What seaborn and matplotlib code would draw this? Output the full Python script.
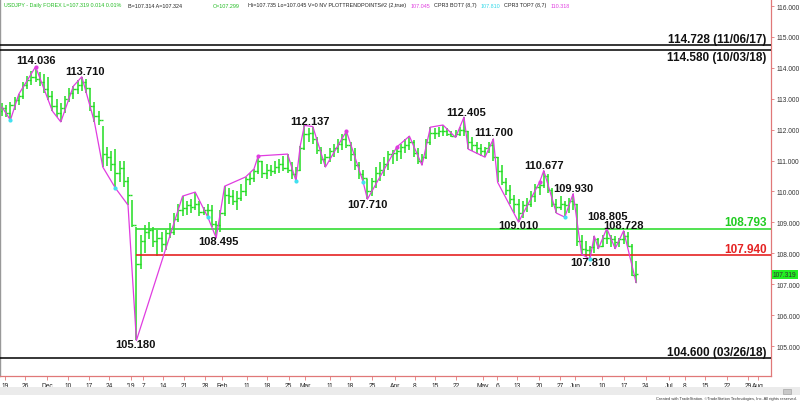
import numpy as np
import pandas as pd
import matplotlib
matplotlib.use("Agg")
import matplotlib.pyplot as plt
import matplotlib.transforms as mtransforms
from matplotlib.patches import Rectangle
import seaborn as sns

# ==============================
# Daily USDJPY bars (index 0 = 19 Nov 2018, one per trading day)
# ==============================

highs = [112.85, 112.80, 112.90, 113.05, 113.15, 113.55, 113.75, 113.90, 114.036, 113.85,
         113.80, 113.70, 113.25, 113.00, 112.85, 113.10, 113.35, 113.41, 113.60, 113.71,
         113.65, 113.35, 112.90, 112.60, 112.12, 111.43, 111.30, 111.37, 111.00, 111.00,
         110.47, 109.72, 108.85, 108.60, 108.90, 109.00, 108.85, 108.75, 108.70, 108.75,
         108.99, 109.30, 109.60, 109.85, 109.70, 109.75, 109.98, 109.70, 109.50, 109.60,
         109.55, 109.05, 109.40, 110.17, 110.10, 110.05, 110.00, 110.25, 110.47, 110.60,
         110.73, 111.15, 111.00, 110.90, 110.85, 111.00, 111.05, 111.15, 111.21, 110.95,
         110.80, 111.47, 112.137, 112.05, 112.10, 111.75, 111.45, 111.20, 111.40, 111.55,
         111.70, 111.85, 111.95, 111.60, 111.40, 110.95, 110.70, 110.40, 110.45, 110.80,
         110.95, 111.10, 111.30, 111.35, 111.44, 111.55, 111.70, 111.79, 111.65, 111.40,
         111.20, 111.70, 112.08, 112.05, 112.10, 112.15, 112.05, 111.95, 112.00, 112.10,
         112.405, 111.95, 111.75, 111.60, 111.55, 111.45, 111.60, 111.70, 111.10, 110.85,
         110.45, 110.20, 109.90, 109.75, 109.70, 109.80, 110.00, 110.25, 110.30, 110.677,
         110.55, 110.10, 109.75, 109.85, 109.70, 109.80, 109.93, 109.60, 108.60, 108.40,
         108.25, 108.56, 108.50, 108.60, 108.805, 108.60, 108.55, 108.50, 108.728, 108.69,
         108.30, 107.735]

lows = [112.45, 112.40, 112.31, 112.65, 112.80, 113.00, 113.30, 113.45, 113.55, 113.40,
        113.20, 112.95, 112.60, 112.40, 112.25, 112.55, 112.90, 113.00, 113.15, 113.25,
        113.20, 112.60, 112.25, 112.15, 110.79, 110.82, 110.66, 110.11, 110.30, 110.14,
        109.56, 108.85, 105.18, 107.50, 108.00, 108.45, 108.20, 107.90, 108.05, 108.10,
        108.50, 108.60, 109.00, 109.20, 109.25, 109.30, 109.40, 109.20, 109.25, 109.17,
        108.85, 108.495, 108.70, 109.20, 109.60, 109.55, 109.40, 109.70, 109.85, 110.20,
        110.30, 110.55, 110.45, 110.40, 110.50, 110.55, 110.60, 110.65, 110.60, 110.40,
        110.34, 110.65, 111.35, 111.60, 111.55, 111.20, 110.90, 110.79, 110.95, 111.10,
        111.25, 111.35, 111.40, 111.00, 110.70, 110.40, 110.30, 109.75, 109.85, 110.10,
        110.35, 110.50, 110.70, 110.90, 111.00, 111.05, 111.25, 111.35, 111.10, 110.90,
        110.85, 111.05, 111.50, 111.70, 111.75, 111.80, 111.78, 111.76, 111.75, 111.80,
        111.80, 111.37, 111.30, 111.20, 111.15, 111.11, 111.25, 111.00, 110.30, 110.20,
        109.90, 109.60, 109.30, 109.01, 109.15, 109.35, 109.50, 109.65, 109.90, 110.10,
        109.95, 109.50, 109.30, 109.40, 109.17, 109.30, 109.40, 108.25, 107.97, 107.88,
        107.81, 108.00, 108.15, 108.20, 108.30, 108.20, 108.15, 108.20, 108.30, 108.20,
        107.25, 107.045]

closes = [112.70, 112.55, 112.80, 112.95, 113.10, 113.45, 113.60, 113.70, 113.65, 113.55,
          113.30, 113.10, 112.75, 112.55, 112.70, 113.00, 113.20, 113.30, 113.45, 113.55,
          113.35, 112.75, 112.45, 112.30, 111.20, 111.10, 110.90, 110.60, 110.75, 110.35,
          109.90, 108.90, 107.65, 108.40, 108.70, 108.75, 108.40, 108.50, 108.30, 108.65,
          108.70, 109.10, 109.40, 109.45, 109.55, 109.50, 109.60, 109.35, 109.40, 109.40,
          108.95, 108.90, 109.30, 109.90, 109.85, 109.70, 109.80, 110.00, 110.40, 110.45,
          110.65, 111.00, 110.60, 110.70, 110.65, 110.80, 110.90, 110.75, 110.70, 110.55,
          110.70, 111.40, 111.85, 111.90, 111.70, 111.35, 111.05, 111.10, 111.30, 111.40,
          111.55, 111.70, 111.50, 111.20, 110.85, 110.55, 110.45, 110.00, 110.35, 110.60,
          110.70, 110.90, 111.20, 111.25, 111.30, 111.45, 111.50, 111.60, 111.25, 111.00,
          111.10, 111.60, 111.90, 111.90, 111.95, 111.95, 111.85, 111.80, 111.85, 112.00,
          111.95, 111.60, 111.50, 111.40, 111.30, 111.40, 111.50, 111.10, 110.65, 110.30,
          110.05, 109.75, 109.60, 109.30, 109.55, 109.60, 109.85, 110.15, 110.20, 110.50,
          110.05, 109.60, 109.50, 109.60, 109.55, 109.70, 109.60, 108.40, 108.15, 108.10,
          108.20, 108.45, 108.25, 108.50, 108.50, 108.45, 108.35, 108.45, 108.55, 108.25,
          107.30, 107.319]

first_open = 112.60

# trend points (zigzag) and pivot dots
zz_x = [0, 2, 4, 8, 12, 14, 17, 19, 22, 24, 27, 30, 32, 43, 46, 49, 51, 53, 58, 60,
        61, 68, 70, 71, 72, 74, 77, 82, 86, 87, 94, 97, 100, 102, 105, 108, 110, 111, 115, 117,
        118, 123, 128, 129, 132, 134, 136, 138, 140, 141, 142, 144, 146, 148, 151]
zz_y = [112.73, 112.31, 113.15, 114.036, 112.60, 112.25, 113.41, 113.71, 112.25, 110.79,
        110.11, 109.56, 105.18, 109.85, 109.98, 109.17, 108.495, 110.17, 110.47, 110.73,
        111.15, 111.21, 110.34, 111.47, 112.137, 112.10, 110.79, 111.95, 110.30, 109.75,
        111.44, 111.79, 110.85, 112.08, 112.15, 111.75, 112.405, 111.37, 111.11, 111.70,
        110.30, 109.01, 110.30, 110.677, 109.30, 109.17, 109.93, 107.97, 107.81, 108.56,
        108.15, 108.805, 108.15, 108.728, 107.045]

top_dots_x = [8, 61, 82, 94, 128]
top_dots_y = [114.036, 111.15, 111.95, 111.44, 110.30]
bot_dots_x = [2, 27, 49, 70, 86, 134, 140]
bot_dots_y = [112.31, 110.11, 109.17, 110.34, 110.30, 109.17, 107.81]

# swing labels
lab_x = [8, 19, 32, 51, 72, 87, 110, 117, 129, 136, 123, 144, 148, 140]
lab_y = [114.036, 113.71, 105.18, 108.495, 112.137, 109.75, 112.405, 111.70,
         110.677, 109.93, 109.01, 108.805, 108.728, 107.81]
lab_text = ["114.036", "113.710", "105.180", "108.495", "112.137", "107.710", "112.405",
            "111.700", "110.677", "109.930", "109.010", "108.805", "108.728", "107.810"]
lab_above = [True, True, False, False, True, False, True, True, True, True, False, True, True, False]
lab_dx = [0, 2.2, -0.7, 1.4, 4.3, 0, 1.4, 0, 0, 0, 0, 0.7, 0, 0]
lab_dy = [2.7, 1.7, 2.2, 2.9, 0.8, 1.4, 1.4, 2.9, 1.8, 1.9, 2.9, 6.5, 2.0, 2.9]

# support / resistance levels
lvl_long = [114.728, 114.580, 104.600]
lvl_long_text = ["114.728 (11/06/17)", "114.580 (10/03/18)", "104.600 (03/26/18)"]
lvl_long_above = [True, False, True]
lvl_green = 108.793
lvl_red = 107.940
lvl_start = 32

# x axis ticks (trading-day index) and labels
xt_pos = [0.7, 5.5, 10.7, 15.7, 20.7, 25.5, 30.7, 33.6, 38.3, 43.3, 48.3, 52.4, 58.3, 63.1,
          68.3, 72.1, 78.1, 82.9, 88.1, 93.6, 98.3, 103.1, 108.1, 114.5, 117.9, 122.6, 127.9,
          132.9, 136.4, 142.9, 148.1, 153.3, 158.8, 162.6, 167.4, 172.6, 177.6, 180.0]
xt_lab = ["19", "26", "Dec", "10", "17", "24", "'19", "7", "14", "21", "28", "Feb", "11", "18",
          "25", "Mar", "11", "18", "25", "Apr", "8", "15", "22", "May", "6", "13", "20",
          "27", "Jun", "10", "17", "24", "Jul", "8", "15", "22", "29", "Aug"]
yt_pos = [105, 106, 107, 108, 109, 110, 111, 112, 113, 114, 115, 116]

# ==============================
# Frame
# ==============================

bars = pd.DataFrame({"high": highs, "low": lows, "close": closes})
bars["idx"] = np.arange(len(bars))
bars["open"] = bars["close"].shift(1).fillna(first_open)

sns.set_style("white")
plt.rcParams["font.family"] = ["Liberation Sans", "DejaVu Sans"]

GREEN = "#22dd22"
MAGENTA = "#e03ce0"
RED = "#e52222"
AXRED = "#e07878"

fig = plt.figure(figsize=(8, 4.02), dpi=100)
ax = fig.add_axes([0, 25 / 402, 771 / 800, 377 / 402])

# OHLC bars
ax.vlines(bars["idx"], bars["low"], bars["high"], color=GREEN, lw=1.1, zorder=2)
ax.hlines(bars["open"], bars["idx"] - 0.5, bars["idx"], color=GREEN, lw=1.0, zorder=2)
ax.hlines(bars["close"], bars["idx"], bars["idx"] + 0.5, color=GREEN, lw=1.0, zorder=2)

# levels
x_right = 183.1
for lv in lvl_long:
    ax.hlines(lv, -1, x_right, color="black", lw=1.1, zorder=3)
ax.hlines(lvl_green, lvl_start, x_right, color="#33dd33", lw=1.2, zorder=3)
ax.hlines(lvl_red, lvl_start, x_right, color=RED, lw=1.2, zorder=3)

# zigzag trend points
sns.lineplot(x=zz_x, y=zz_y, color=MAGENTA, lw=0.9, estimator=None, sort=False, ax=ax, zorder=4)
sns.scatterplot(x=top_dots_x, y=top_dots_y, color=MAGENTA, s=9, linewidth=0, ax=ax, zorder=5)
sns.scatterplot(x=bot_dots_x, y=bot_dots_y, color="#40e0f0", s=9, linewidth=0, ax=ax, zorder=5)

# swing labels
for x, y, t, up, dx, dy in zip(lab_x, lab_y, lab_text, lab_above, lab_dx, lab_dy):
    ax.annotate(t, (x, y), xytext=(dx, dy if up else dy - 1.5),
                textcoords="offset points", ha="center",
                va="baseline" if up else "top",
                fontsize=8, fontweight="bold", color="#111111", zorder=6)

# right-side level labels
lab_right = 182.1
for lv, t, up in zip(lvl_long, lvl_long_text, lvl_long_above):
    ax.annotate(t, (lab_right, lv), xytext=(0, 2.5 if up else -1.0),
                textcoords="offset points", ha="right",
                va="baseline" if up else "top",
                fontsize=8.5, fontweight="bold", color="#111111")
ax.annotate(f"{lvl_green:.3f}", (lab_right, lvl_green), xytext=(0, 2.8),
            textcoords="offset points", ha="right", va="baseline",
            fontsize=8.5, fontweight="bold", color="#22cc22")
ax.annotate(f"{lvl_red:.3f}", (lab_right, lvl_red), xytext=(0, 2.6),
            textcoords="offset points", ha="right", va="baseline",
            fontsize=8.5, fontweight="bold", color=RED)

# axes styling
ax.set_xlim(-0.48, x_right)
ax.set_ylim(104.03, 116.227)
ax.set_xticks(xt_pos)
ax.set_xticklabels(xt_lab)
ax.set_yticks(yt_pos)
ax.set_yticklabels([f"{v:.3f}" for v in yt_pos])
ax.yaxis.tick_right()
ax.tick_params(axis="x", length=3, width=0.6, color=AXRED, labelsize=4.8,
               labelcolor="#222222", pad=1.5, direction="out", bottom=True)
ax.tick_params(axis="y", length=2.5, width=0.6, color=AXRED, labelsize=4.8,
               labelcolor="#333333", pad=1.2, direction="out", right=True, left=False)
ax.set_xlabel("")
ax.set_ylabel("")
ax.spines["top"].set_visible(False)
ax.spines["right"].set_color(AXRED)
ax.spines["right"].set_linewidth(0.9)
ax.spines["bottom"].set_color(AXRED)
ax.spines["bottom"].set_linewidth(0.9)
ax.spines["left"].set_color("#999999")
ax.spines["left"].set_linewidth(1.0)

# last price box on the price scale
last_tr = mtransforms.blended_transform_factory(fig.transFigure, ax.transData)
ax.text(773 / 800, closes[-1], f"{closes[-1]:.3f}", transform=last_tr, ha="left", va="center",
        fontsize=4.8, color="#333333",
        bbox=dict(boxstyle="square,pad=0.15", facecolor="#22ee22", edgecolor="none"))

# header line: segments placed left to right, never overlapping
hdr_y = 1 - 6 / 402
header = [
    (2, "USDJPY - Daily FOREX L=107.319 0.014 0.01%", "#22bb22"),
    (128, "B=107.314 A=107.324", "#222222"),
    (213, "O=107.299", "#22bb22"),
    (248, "Hi=107.735 Lo=107.045 V=0 NV PLOTTRENDPOINTS#2 (2,true)", "#222222"),
    (386, "107.045", MAGENTA),
    (402, "CPR3 BOT7 (8,7)", "#222222"),
    (448, "107.810", "#30d8e8"),
    (470, "CPR3 TOP7 (8,7)", "#222222"),
    (517, "110.318", MAGENTA),
]
renderer = fig.canvas.get_renderer()
cursor = 0
for px, t, c in header:
    x0 = max(px, cursor + 4)
    txt = fig.text(x0 / 800, hdr_y, t, fontsize=3.9, color=c, ha="left", va="center")
    cursor = txt.get_window_extent(renderer).x1

# bottom scroll strip and credit
fig.patches.append(Rectangle((0, 6 / 402), 1, 8 / 402, transform=fig.transFigure,
                             facecolor="#ebebeb", edgecolor="none", zorder=0))
fig.patches.append(Rectangle((783 / 800, 7.5 / 402), 8 / 800, 5 / 402, transform=fig.transFigure,
                             facecolor="#c8c8c8", edgecolor="#999999", lw=0.4, zorder=1))
fig.text(797 / 800, 0.5 / 402, "Created with TradeStation. \u00a9TradeStation Technologies, Inc. All rights reserved.",
         fontsize=2.9, color="#333333", ha="right", va="bottom")

fig.savefig("out.png", dpi=100, facecolor="white")
